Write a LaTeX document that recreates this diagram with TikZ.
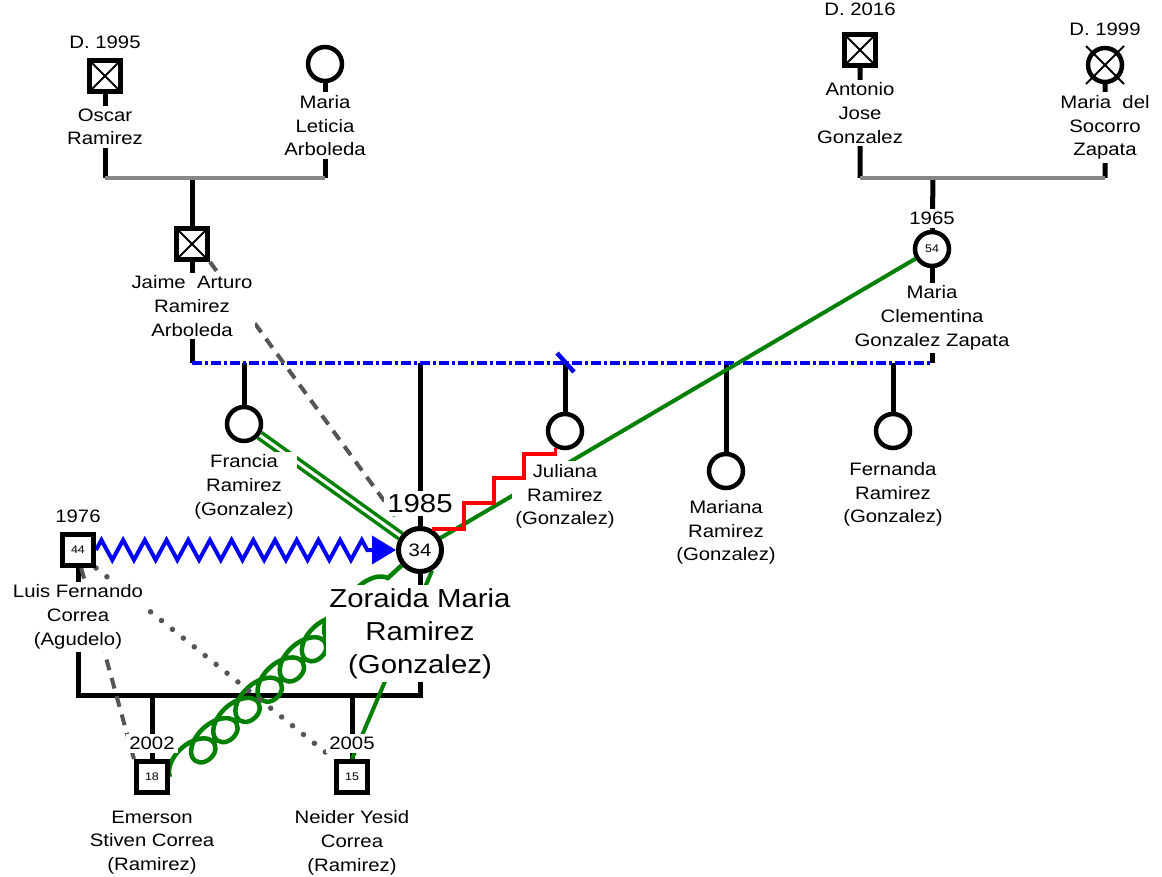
\documentclass[tikz,border=0pt]{standalone}
\usepackage{fontspec}
\setmainfont{Liberation Sans}[FakeStretch=1.13]
\usetikzlibrary{positioning, arrows.meta, decorations.pathmorphing, backgrounds}
\definecolor{kingreen}{RGB}{0,128,0}
\definecolor{sepblue}{RGB}{0,0,235}
\definecolor{wedgrey}{RGB}{135,135,135}
\definecolor{linkgrey}{RGB}{85,85,85}

\tikzset{
  male/.style={draw, rectangle, line width=5pt, fill=white, minimum size=31pt, inner sep=0pt, font=\fontsize{11}{11}\selectfont},
  female/.style={draw, circle, line width=4.5pt, fill=white, minimum size=34pt, inner sep=0pt, font=\fontsize{11}{11}\selectfont},
  egocirc/.style={female, line width=5pt, minimum size=43pt, font=\fontsize{18}{18}\selectfont},
  deadbox/.style={path picture={\draw[line width=2pt] (path picture bounding box.north west) -- (path picture bounding box.south east) (path picture bounding box.north east) -- (path picture bounding box.south west);}},
  who/.style={fill=white, inner sep=3pt, align=center, font=\fontsize{18}{23.7}\selectfont},
  bigwho/.style={who, font=\fontsize{26}{33.3}\selectfont},
  yr/.style={fill=white, inner sep=3pt, font=\fontsize{18}{18}\selectfont},
  kin/.style={line width=5pt},
  wed/.style={line width=4.5pt, wedgrey},
  splitline/.style={line width=4.5pt, sepblue, dash pattern=on 10pt off 3pt on 3pt off 3pt},
  fusion/.style={line width=4pt, blue, decorate, decoration={zigzag, amplitude=10pt, segment length=21.7pt, post length=24pt}, -{Triangle[length=24pt, width=28pt]}},
  close/.style={line width=4pt, kingreen},
  closer/.style={line width=3.5pt, kingreen, double=white, double distance=3pt},
  tied/.style={line width=4.5pt, kingreen, decorate, decoration={coil, amplitude=13.5pt, segment length=30pt, aspect=1.48}},
  rift/.style={line width=3.5pt, red, line join=miter},
  cool/.style={line width=4pt, linkgrey, dash pattern=on 11pt off 8pt},
  faint/.style={line width=5.5pt, linkgrey, line cap=round, dash pattern=on 0pt off 14pt}
}

\begin{document}
\begin{tikzpicture}[x=1pt, y=-1pt]
\useasboundingbox (0,0) rectangle (1162,877);

% father's parents
\node[male, deadbox] (osc) at (105,76) {};
\node[female] (mle) at (325,64) {};
\node[male, deadbox] (jai) at (192,244) {};
% mother's parents
\node[male, deadbox] (ant) at (860,50) {};
\node[female] (soc) at (1105,65) {};
\draw[line width=2pt] (soc) ++(-19,-19) -- ++(38,38) (soc) ++(19,-19) -- ++(-38,38);
\node[female] (cle) at (932,249) {54};
% sisters
\node[female] (fra) at (244,424) {};
\node[egocirc] (zor) at (420,550) {34};
\node[female] (jul) at (565,431) {};
\node[female] (mar) at (726,471) {};
\node[female] (fer) at (893,431) {};
% partner and sons
\node[male] (lui) at (78,550) {44};
\node[male] (eme) at (152,777) {18};
\node[male] (nei) at (352,777) {15};

% years
\node[yr, above=6pt of osc] (osc-y) {D. 1995};
\node[yr, above=13pt of ant] (ant-y) {D. 2016};
\node[yr, above=7pt of soc] (soc-y) {D. 1999};
\node[yr, above=2pt of cle] (cle-y) {1965};
\node[yr, above=10pt of zor, font=\fontsize{26}{26}\selectfont] (zor-y) {1985};
\node[yr, above=6pt of lui] (lui-y) {1976};
\node[yr, above=6pt of eme] (eme-y) {2002};
\node[yr, above=6pt of nei] (nei-y) {2005};

% names
\node[who, below=11.5pt of osc] (osc-n) {Oscar\\Ramirez};
\node[who, below=9pt of mle] (mle-n) {Maria\\Leticia\\Arboleda};
\node[who, below=10.5pt of jai] (jai-n) {Jaime\ \ Arturo\\Ramirez\\Arboleda};
\node[who, below=11.5pt of ant] (ant-n) {Antonio\\Jose\\Gonzalez};
\node[who, below=8pt of soc] (soc-n) {Maria\ \ del\\Socorro\\Zapata};
\node[who, below=14.5pt of cle] (cle-n) {Maria\\Clementina\\Gonzalez Zapata};
\node[who, below=8.5pt of fra] (fra-n) {Francia\\Ramirez\\(Gonzalez)};
\node[bigwho, below=11pt of zor] (zor-n) {Zoraida Maria\\Ramirez\\(Gonzalez)};
\node[who, below=7pt of mar] (mar-n) {Mariana\\Ramirez\\(Gonzalez)};
\node[who, below=9pt of fer] (fer-n) {Fernanda\\Ramirez\\(Gonzalez)};
\node[who, below=13.5pt of lui] (lui-n) {Luis Fernando\\Correa\\(Agudelo)};
\node[who, below=12.5pt of eme] (eme-n) {Emerson\\Stiven Correa\\(Ramirez)};
\node[who, below=12.5pt of nei] (nei-n) {Neider Yesid\\Correa\\(Ramirez)};

% close bond to the mother, hidden by Juliana's label only
\draw[close] (zor) -- (cle);
\node[who, below=11pt of jul] (jul-n) {Juliana\\Ramirez\\(Gonzalez)};
\draw[rift] (zor.60) -- ++(32,0) -- ++(0,-26) -- ++(30,0) -- ++(0,-25) -- ++(30,0) -- ++(0,-24) -| (jul.240);

\begin{pgfonlayer}{background}
% family lines
\coordinate (w1) at (192,178);
\coordinate (w2) at (933,178);
\coordinate (w3) at (420,363);
\coordinate (w4) at (420,695);
\draw[kin] (osc) -- (osc |- w1) (mle) -- (mle |- w1) (w1) -- (jai);
\draw[wed] (osc |- w1) -- (mle |- w1);
\draw[kin] (ant) -- (ant |- w2) (soc) -- (soc |- w2) (w2) -- (cle);
\draw[wed] (ant |- w2) -- (soc |- w2);
\draw[kin] (jai) -- (jai |- w3) (cle) -- (cle |- w3);
\foreach \k in {fra, zor, jul, mar, fer}
  \draw[kin] (\k) -- (\k |- w3);
\draw[splitline] (jai |- w3) -- (cle |- w3);
\path (jul |- w3) coordinate (cut);
\draw[splitline, solid] (cut) ++(-8,-10) -- ++(17,19);
\draw[kin] (lui) -- (lui |- w4) -- (zor |- w4) -- (zor);
\draw[kin] (eme) -- (eme |- w4) (nei) -- (nei |- w4);

% relationships
\draw[fusion] (lui) -- (zor);
\draw[closer] (fra) -- (zor);
\draw[cool, shorten >=18pt] (jai.south east) -- (zor);
\draw[tied] (eme.east) -- (zor.220);
\draw[close] (nei.north) -- (zor.-60);
\draw[faint] (lui.south east) -- (nei.north west);
\draw[cool] (lui.-80) -- (eme.north west);
\end{pgfonlayer}
\end{tikzpicture}
\end{document}
